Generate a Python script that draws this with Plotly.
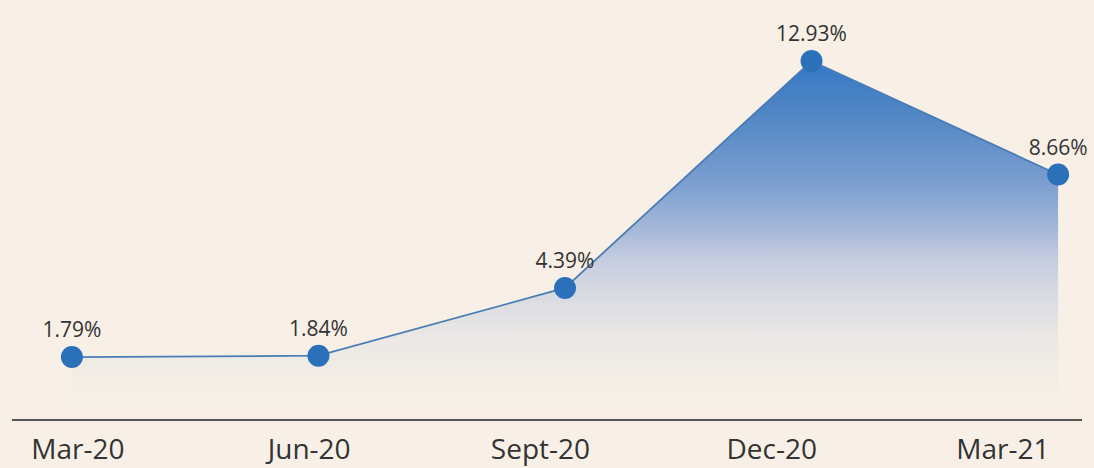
import plotly.graph_objects as go

categories = ["Mar-20", "Jun-20", "Sept-20", "Dec-20", "Mar-21"]
values = [1.79, 1.84, 4.39, 12.93, 8.66]
labels = ["1.79%", "1.84%", "4.39%", "12.93%", "8.66%"]

bg = "#f8f0e6"

fig = go.Figure()
fig.add_trace(go.Scatter(
    x=categories, y=values,
    mode="lines+markers+text",
    text=labels,
    textposition="top center",
    textfont=dict(family="Open Sans", size=21, color="#333333"),
    line=dict(color="#4a7db5", width=1.8),
    marker=dict(size=22, color="#2b71ba", line=dict(width=0)),
    fill="tozeroy",
    fillgradient=dict(
        type="vertical", start=0, stop=12.93,
        colorscale=[[0, "#f8f0e6"], [0.07, "#f3ede5"], [0.19, "#ebe8e5"],
                    [0.3, "#dcdde3"], [0.42, "#c6cde0"], [0.51, "#a5b8d8"],
                    [0.65, "#7a9ecf"], [0.86, "#4e85c4"], [1, "#3478c8"]],
    ),
    cliponaxis=False,
    hoverinfo="skip",
))
# carrier for the category labels along the bottom axis
fig.add_trace(go.Scatter(
    x=categories, y=values, xaxis="x2",
    mode="markers", marker=dict(opacity=0),
    hoverinfo="skip", showlegend=False,
))

fig.update_layout(
    width=1094, height=468,
    paper_bgcolor=bg, plot_bgcolor=bg,
    margin=dict(l=12, r=12, t=0, b=49),
    showlegend=False,
    xaxis=dict(
        type="category",
        range=[-0.243, 4.097],
        automargin=False,
        showgrid=False, zeroline=False,
        showline=True, linecolor="#555555", linewidth=2,
        ticks="", showticklabels=False,
    ),
    xaxis2=dict(
        type="category",
        overlaying="x", side="bottom", anchor="y",
        range=[-0.285, 4.342],
        automargin=False,
        showgrid=False, zeroline=False, showline=False,
        ticks="", tickfont=dict(family="Open Sans", size=28, color="#333333"),
        ticklabelstandoff=11,
    ),
    yaxis=dict(
        range=[-0.543, 15.23],
        visible=False,
        automargin=False,
    ),
)

fig.write_html("out.html", config={"displayModeBar": False},
               post_script="document.body.style.margin='0';document.body.style.background='#f8f0e6';")
